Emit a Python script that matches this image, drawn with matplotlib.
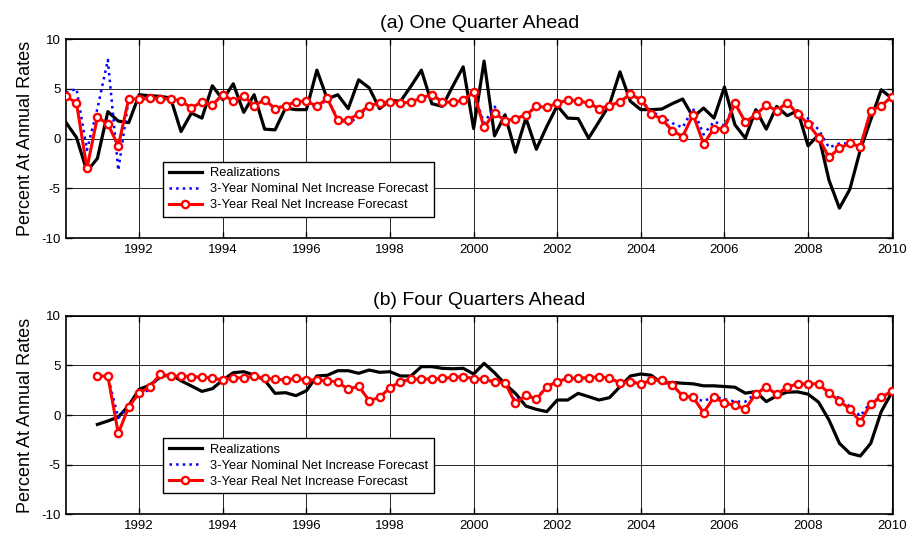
import numpy as np
import matplotlib
matplotlib.use("Agg")
import matplotlib.pyplot as plt

plt.rcParams["font.family"] = ["Liberation Sans", "DejaVu Sans"]
plt.rcParams["axes.unicode_minus"] = False

# quarterly observations, 1990Q2 .. 2010Q1 (plotted at year + quarter/4)
start_year = 1990.25
n_quarters = 80
quarters = start_year + 0.25 * np.arange(n_quarters)

nan = np.nan

# (a) one quarter ahead
real_1q = [4.24, 3.57, -3.0, 2.15, 1.45, -0.74, 4.0, 3.94, 4.04, 3.97,
           4.0, 3.8, 3.06, 3.7, 3.4, 4.4, 3.77, 4.3, 3.3, 3.9,
           3.0, 3.3, 3.7, 3.77, 3.23, 4.04, 1.82, 1.85, 2.5, 3.3,
           3.57, 3.7, 3.57, 3.64, 4.1, 4.4, 3.7, 3.64, 3.84, 4.65,
           1.11, 2.6, 1.78, 2.0, 2.36, 3.23, 3.13, 3.57, 3.84, 3.77,
           3.57, 3.0, 3.3, 3.7, 4.45, 3.9, 2.5, 1.95, 0.8, 0.2,
           2.4, -0.54, 1.0, 1.0, 3.55, 1.65, 2.4, 3.35, 2.8, 3.6,
           2.5, 1.48, 0.1, -1.9, -0.95, -0.5, -0.81, 2.8, 3.3, 4.17]

nominal_1q = [4.6, 5.0, -1.15, 3.0, 7.9, -3.2, 4.0, 3.94, 4.04, 3.97,
              4.0, 3.8, 3.06, 3.7, 3.4, 4.4, 3.77, 4.3, 3.3, 3.9,
              3.0, 3.3, 3.7, 3.77, 3.0, 4.0, 2.0, 1.4, 2.3, 3.3,
              3.57, 3.7, 3.57, 3.64, 4.1, 4.4, 3.7, 3.64, 3.84, 4.65,
              1.55, 3.2, 1.78, 2.0, 2.36, 3.23, 3.13, 3.57, 3.84, 3.77,
              3.57, 3.0, 3.3, 3.7, 4.45, 3.9, 2.7, 2.2, 1.55, 1.1,
              3.0, 0.4, 1.7, 1.3, 3.55, 1.65, 2.4, 3.35, 2.8, 3.6,
              2.6, 2.0, 0.9, -0.9, -0.5, -0.5, -0.8, 2.8, 3.3, 4.17]

actual_1q = [1.6, 0.1, -3.3, -2.0, 2.7, 1.75, 1.6, 4.4, 4.3, 4.24,
             4.07, 0.7, 2.56, 2.05, 5.3, 3.9, 5.5, 2.63, 4.4, 0.94,
             0.87, 3.06, 2.9, 2.9, 6.87, 3.97, 4.4, 3.0, 5.9, 5.1,
             3.0, 3.84, 3.74, 5.25, 6.87, 3.5, 3.23, 5.25, 7.2, 1.0,
             7.78, 0.27, 2.39, -1.38, 2.05, -1.08, 1.21, 3.3, 2.05, 2.0,
             0.03, 1.7, 3.4, 6.7, 3.74, 2.9, 2.9, 2.96, 3.5, 3.97,
             2.15, 3.06, 2.05, 5.18, 1.38, 0.03, 2.9, 0.94, 3.23, 2.29,
             2.8, -0.74, 0.37, -4.18, -7.0, -5.1, -1.14, 1.89, 4.9, 4.07]

# (b) four quarters ahead
real_4q = [nan, nan, nan, 3.93, 3.9, -1.85, 0.84, 2.22, 2.82, 4.1,
           3.9, 3.93, 3.87, 3.8, 3.72, 3.52, 3.76, 3.72, 3.93, 3.7,
           3.62, 3.52, 3.7, 3.52, 3.52, 3.46, 3.32, 2.58, 2.92, 1.44,
           1.78, 2.75, 3.36, 3.59, 3.62, 3.62, 3.69, 3.79, 3.86, 3.66,
           3.59, 3.32, 3.26, 1.17, 2.01, 1.58, 2.85, 3.36, 3.69, 3.69,
           3.76, 3.86, 3.69, 3.26, 3.36, 3.12, 3.5, 3.55, 3.04, 1.93,
           1.79, 0.24, 1.79, 1.18, 0.98, 0.61, 2.13, 2.8, 2.1, 2.8,
           3.14, 3.14, 3.14, 2.2, 1.45, 0.57, -0.68, 1.11, 1.79, 2.37]

nominal_4q = [nan, nan, nan, 3.93, 3.9, -0.3, 0.84, 2.22, 2.5, 4.1,
              3.9, 3.93, 3.87, 3.8, 3.72, 3.52, 3.76, 3.72, 3.93, 3.7,
              3.62, 3.52, 3.7, 3.52, 3.52, 3.46, 3.32, 2.58, 2.92, 1.44,
              1.78, 2.75, 3.36, 3.59, 3.62, 3.62, 3.69, 3.79, 3.86, 3.66,
              3.59, 3.32, 3.26, 1.4, 2.01, 1.7, 2.85, 3.36, 3.69, 3.69,
              3.76, 3.86, 3.69, 3.26, 3.36, 3.12, 3.5, 3.55, 3.04, 1.95,
              1.7, 1.4, 1.85, 1.6, 1.35, 1.35, 2.2, 2.8, 2.1, 2.8,
              3.14, 3.14, 3.14, 2.3, 1.7, 0.85, -0.1, 1.3, 1.79, 2.37]

actual_4q = [nan, nan, nan, -0.95, -0.6, -0.2, 0.95, 2.6, 3.0, 3.8,
             4.1, 3.45, 2.92, 2.38, 2.65, 3.52, 4.26, 4.36, 4.03, 3.52,
             2.18, 2.25, 1.95, 2.45, 3.93, 4.0, 4.46, 4.46, 4.2, 4.53,
             4.3, 4.36, 3.93, 3.93, 4.87, 4.87, 4.7, 4.66, 4.7, 4.13,
             5.2, 4.26, 3.12, 2.18, 0.9, 0.57, 0.34, 1.51, 1.51, 2.18,
             1.85, 1.51, 1.75, 2.85, 3.93, 4.13, 4.0, 3.2, 3.28, 3.2,
             3.14, 2.94, 2.94, 2.87, 2.8, 2.2, 2.36, 1.35, 1.93, 2.3,
             2.33, 2.1, 1.3, -0.5, -2.85, -3.86, -4.13, -2.85, 0.34, 2.25]

panel_titles = ["(a) One Quarter Ahead", "(b) Four Quarters Ahead"]
series_labels = ["Realizations",
                 "3-Year Nominal Net Increase Forecast",
                 "3-Year Real Net Increase Forecast"]
year_ticks = list(range(1992, 2011, 2))
value_ticks = [-10, -5, 0, 5, 10]

panels = [
    (panel_titles[0], actual_1q, nominal_1q, real_1q),
    (panel_titles[1], actual_4q, nominal_4q, real_4q),
]

fig = plt.figure(figsize=(9.11, 5.38), dpi=100)
fig.patch.set_facecolor("white")
axes_rects = [
    [0.0725, 0.5576, 0.9072, 0.3699],
    [0.0725, 0.0440, 0.9072, 0.3692],
]

for rect, (title, actual, nominal, real) in zip(axes_rects, panels):
    ax = fig.add_axes(rect)
    ax.plot(quarters, actual, color="black", linewidth=2.3,
            label=series_labels[0], zorder=3)
    ax.plot(quarters, nominal, color="#0000ff", linestyle=":",
            linewidth=1.8, label=series_labels[1], zorder=4)
    ax.plot(quarters, real, color="#ff0000", linewidth=2.2, marker="o",
            markersize=5.2, markerfacecolor="white", markeredgecolor="#ff0000",
            markeredgewidth=1.7, label=series_labels[2], zorder=5)

    ax.set_xlim(start_year, 2010.02)
    ax.set_ylim(-10, 10)
    ax.set_xticks(year_ticks)
    ax.set_yticks(value_ticks)
    ax.grid(True, color="black", linewidth=0.6, linestyle="-")
    ax.set_axisbelow(True)
    ax.tick_params(direction="in", top=True, right=True, length=4,
                   width=1, labelsize=9.5, pad=4)
    for sp in ax.spines.values():
        sp.set_linewidth(1.2)
    ax.set_title(title, fontsize=14, pad=8)
    ax.set_ylabel("Percent At Annual Rates", fontsize=13, labelpad=5)

    leg = ax.legend(loc="lower left", bbox_to_anchor=(0.117, 0.105),
                    fontsize=9.3, frameon=True, fancybox=False,
                    edgecolor="black", framealpha=1, handlelength=2.6,
                    borderpad=0.45, labelspacing=0.3, handletextpad=0.6,
                    borderaxespad=0)
    leg.get_frame().set_linewidth(1.0)
    leg.set_zorder(10)

fig.savefig("out.png", dpi=100, facecolor="white")
